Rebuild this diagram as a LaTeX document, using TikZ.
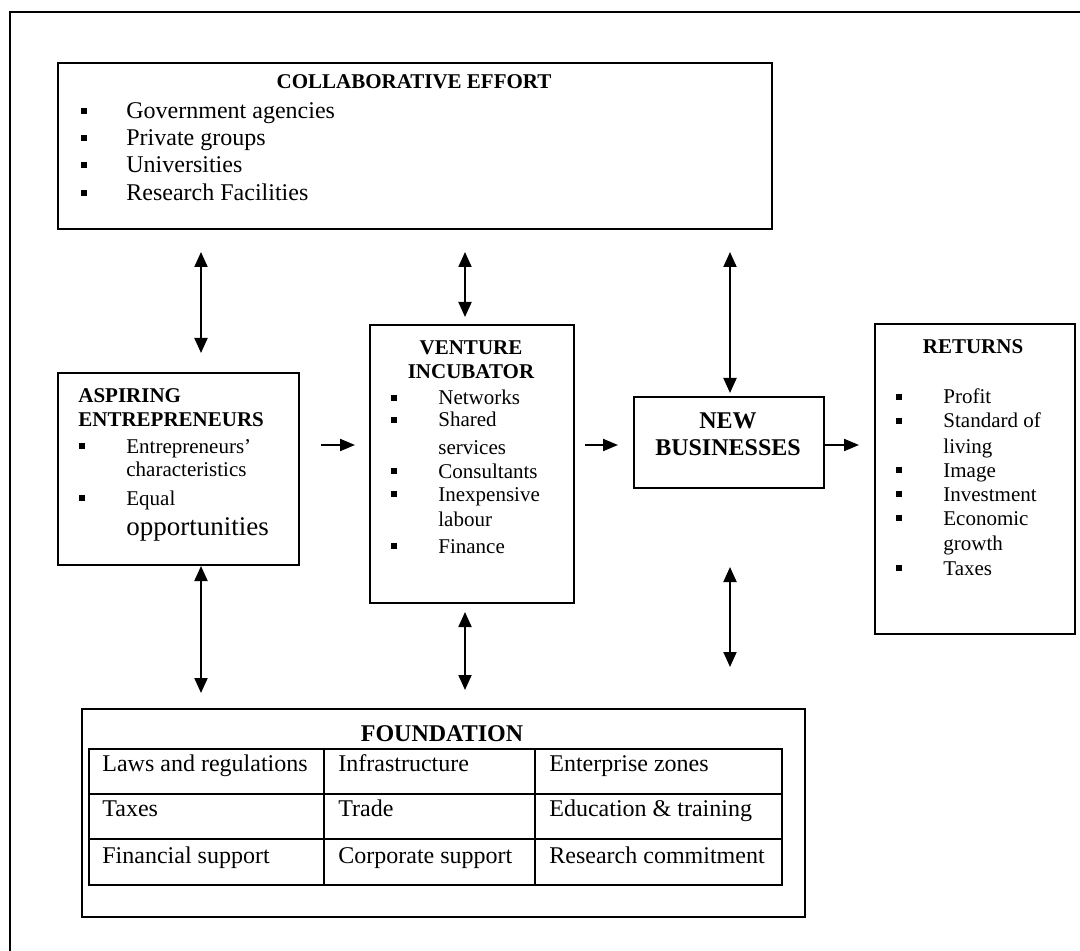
\documentclass[tikz,border=0pt]{standalone}
\usepackage{fontspec}
\setmainfont{Liberation Serif}
\usetikzlibrary{arrows.meta}
\begin{document}
\begin{tikzpicture}[x=0.5pt,y=-0.5pt,
 box/.style={draw,line width=1pt,inner sep=0pt,anchor=north west},
 t/.style={inner sep=0pt,anchor=base west,font=\fontsize{10.5}{12}\selectfont},
 tl/.style={inner sep=0pt,anchor=base west,font=\fontsize{12}{14}\selectfont},
 tb/.style={inner sep=0pt,anchor=base,font=\fontsize{10.5}{12}\selectfont\bfseries},
 tbl/.style={inner sep=0pt,anchor=base west,font=\fontsize{10.5}{12}\selectfont\bfseries},
 tbig/.style={inner sep=0pt,anchor=base,font=\fontsize{12}{14}\selectfont\bfseries},
 bul/.style={fill,inner sep=0pt,minimum size=2.6pt},
 dbl/.style={line width=1pt,{Triangle[length=7.5pt,width=6.5pt]}-{Triangle[length=7.5pt,width=6.5pt]}},
 arr/.style={line width=1pt,-{Triangle[length=7.5pt,width=6pt]}}]
\useasboundingbox (0,0) rectangle (1080,951);
\begin{scope}
\clip (0,0) rectangle (1080,951);
\draw[line width=1.2pt] (10,970) -- (10,12) -- (1100,12);
\end{scope}

% boxes
\node[box,minimum width=357pt,minimum height=83pt] (collab) at (57,62) {};
\node[box,minimum width=120.5pt,minimum height=96pt] (asp) at (57,372) {};
\node[box,minimum width=102pt,minimum height=139pt] (ven) at (369,324) {};
\node[box,minimum width=95pt,minimum height=45.5pt] (new) at (633,396) {};
\node[box,minimum width=100pt,minimum height=155pt] (ret) at (874,323) {};
\node[box,minimum width=361.5pt,minimum height=104pt] (fnd) at (81,708) {};

% collaborative effort
\node[tb] (ctitle) at (414,89) {COLLABORATIVE EFFORT};
\foreach \yy/\tx [count=\i] in {111/Government agencies,138/Private groups,165/Universities,193/Research Facilities}{
 \node[bul] (cb\i) at (84,\yy) {};
 \node[tl] (ct\i) at (126,\yy+8) {\tx};
}

% aspiring entrepreneurs
\node[tbl] (at1) at (78,403) {ASPIRING};
\node[tbl] (at2) at (78,427) {ENTREPRENEURS};
\node[bul] (ab1) at (82,446) {};
\node[t] (ai1) at (126,453) {Entrepreneurs’};
\node[t] (ai2) at (126,476) {characteristics};
\node[bul] (ab2) at (82,498) {};
\node[t] (ai3) at (126,505) {Equal};
\node[t,font=\fontsize{13.5}{15}\selectfont] (ai4) at (126,535) {opportunities};

% venture incubator
\node[tb] (vt1) at (471,355) {VENTURE};
\node[tb] (vt2) at (471,379) {INCUBATOR};
\foreach \yy/\tx [count=\i] in {398/Networks,420/Shared,471/Consultants,494/Inexpensive,546/Finance}{
 \node[bul] (vb\i) at (394,\yy) {};
 \node[t] (vi\i) at (438,\yy+7) {\tx};
}
\node[t] (vs1) at (438,454) {services};
\node[t] (vs2) at (438,526) {labour};

% new businesses
\node[tbig] (nt1) at (728,429) {NEW};
\node[tbig] (nt2) at (728,456) {BUSINESSES};

% returns
\node[tb] (rt) at (973,354) {RETURNS};
\foreach \yy/\tx [count=\i] in {397/Profit,421/Standard of,470/Image,494/Investment,518/Economic,568/Taxes}{
 \node[bul] (rb\i) at (899,\yy) {};
 \node[t] (ri\i) at (943,\yy+7) {\tx};
}
\node[t] (rs1) at (943,453) {living};
\node[t] (rs2) at (943,550) {growth};

% foundation
\node[tbig] (ft) at (442,741) {FOUNDATION};
\foreach \xa/\xb [count=\c] in {88/323,323/534,534/781}{
 \foreach \ya/\yb [count=\r] in {748/793,793/838,838/884}{
  \node[box,minimum width={(\xb-\xa)*0.5pt},minimum height={(\yb-\ya)*0.5pt}] (cell\c\r) at (\xa,\ya) {};
 }
}
\foreach \yy/\ta/\tbb/\tc [count=\r] in {763/Laws and regulations/Infrastructure/Enterprise zones,808/Taxes/Trade/Education \& training,855/Financial support/Corporate support/Research commitment}{
 \node[tl] (fa\r) at (102,\yy+8) {\ta};
 \node[tl] (fb\r) at (338,\yy+8) {\tbb};
 \node[tl] (fc\r) at (549,\yy+8) {\tc};
}

% connector end points
\coordinate (p1a) at (201,252); \coordinate (p1b) at (201,353);
\coordinate (p2a) at (465,252); \coordinate (p2b) at (465,317);
\coordinate (p3a) at (730,252); \coordinate (p3b) at (730,393);
\coordinate (h1a) at (321,445); \coordinate (h1b) at (355,445);
\coordinate (h2a) at (585,445); \coordinate (h2b) at (618,445);
\coordinate (h3b) at (859,445);
\coordinate (q1a) at (201,566); \coordinate (q1b) at (201,693);
\coordinate (q2a) at (465,612); \coordinate (q2b) at (465,690);
\coordinate (q3a) at (730,567); \coordinate (q3b) at (730,667);

\draw[dbl] (p1a) -- (p1b);
\draw[dbl] (p2a) -- (p2b);
\draw[dbl] (p3a) -- (p3b);
\draw[arr] (h1a) -- (h1b);
\draw[arr] (h2a) -- (h2b);
\draw[arr] (new.east |- h3b) -- (h3b);
\draw[dbl] (q1a) -- (q1b);
\draw[dbl] (q2a) -- (q2b);
\draw[dbl] (q3a) -- (q3b);
\end{tikzpicture}
\end{document}
